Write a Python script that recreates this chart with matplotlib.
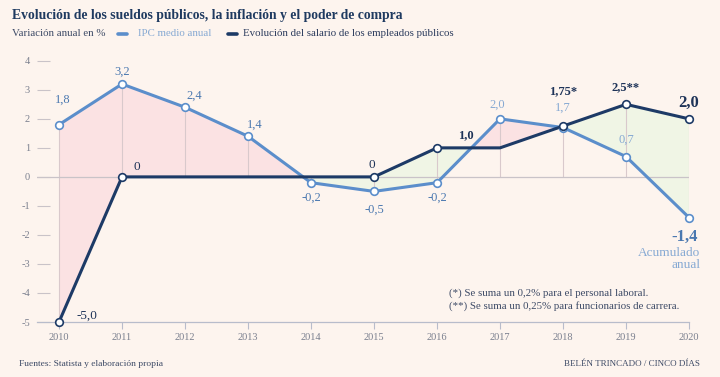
import numpy as np
import matplotlib
matplotlib.use("Agg")
import matplotlib.pyplot as plt
from matplotlib.lines import Line2D

plt.rcParams['font.family'] = ['Liberation Serif', 'DejaVu Serif']
plt.rcParams['axes.unicode_minus'] = False

# Datos
years = [2010, 2011, 2012, 2013, 2014, 2015, 2016, 2017, 2018, 2019, 2020]
ipc = [1.8, 3.2, 2.4, 1.4, -0.2, -0.5, -0.2, 2.0, 1.7, 0.7, -1.4]
salario = [-5.0, 0, 0, 0, 0, 0, 1.0, 1.0, 1.75, 2.5, 2.0]
salario_labels = {2010: "-5,0", 2011: "0", 2015: "0", 2016: "1,0",
                  2018: "1,75*", 2019: "2,5**", 2020: "2,0"}
yticks = [-5, -4, -3, -2, -1, 0, 1, 2, 3, 4]

BG = "#fdf4ee"
C_IPC = "#5b8ecb"
C_IPC_TXT = "#4a78b0"
C_IPC_LIGHT = "#86a9d3"
C_SAL = "#1d3a66"
C_SAL_TXT = "#1e3358"
C_GREY = "#7a7f8e"

W, H = 720, 377
fig = plt.figure(figsize=(7.2, 3.77), dpi=100, facecolor=BG)
ax = fig.add_axes([37 / W, 1 - 322 / H, (689 - 37) / W, (322 - 55) / H])
ax.set_facecolor(BG)

x = np.array(years, dtype=float)
a = np.array(ipc)
b = np.array(salario)

# relleno entre curvas
ax.fill_between(x, a, b, where=a >= b, interpolate=True, color="#fbe2e3", lw=0, zorder=1)
ax.fill_between(x, a, b, where=a < b, interpolate=True, color="#f0f5e5", lw=0, zorder=1)

# líneas verticales
for xi, ai, bi in zip(x, a, b):
    ax.vlines(xi, min(ai, bi, 0), max(ai, bi, 0), color="#d9c9cc", lw=0.8, zorder=2)

ax.axhline(0, color="#c9c3c8", lw=0.9, zorder=2, xmax=1)

ax.plot(x, a, color=C_IPC, lw=2.2, zorder=4, clip_on=False, solid_capstyle="round")
ax.plot(x, a, ls="none", marker="o", ms=5.5, mfc="white", mec=C_IPC, mew=1.2, zorder=6, clip_on=False)
ax.plot(x, b, color=C_SAL, lw=2.2, zorder=5, clip_on=False, solid_capstyle="round")
sal_marks = [y for y in years if y in salario_labels]
ax.plot(sal_marks, [salario[years.index(y)] for y in sal_marks], ls="none", marker="o", ms=5.5,
        mfc="white", mec=C_SAL, mew=1.2, zorder=7, clip_on=False)

# etiquetas IPC (desplazamientos en píxeles)
ipc_off = {2010: (4, 25), 2011: (0, 12), 2012: (9, 12), 2013: (7, 12), 2014: (0, -15),
           2015: (0, -18), 2016: (0, -15), 2017: (-3, 14), 2018: (0, 20), 2019: (0, 17)}
for yr, v in zip(years, ipc):
    txt = f"{v:.1f}".replace(".", ",")
    if yr == 2020:
        ax.annotate(txt, (yr, v), xytext=(-4 * 0.72, -19 * 0.72), textcoords="offset points",
                    ha="center", va="center", fontsize=12, fontweight="bold", color=C_IPC_TXT,
                    annotation_clip=False)
        continue
    dx, dy = ipc_off[yr]
    col = C_IPC_LIGHT if yr in (2017, 2018, 2019) else C_IPC_TXT
    ax.annotate(txt, (yr, v), xytext=(dx * 0.72, dy * 0.72), textcoords="offset points",
                ha="center", va="center", fontsize=9, color=col, annotation_clip=False)

ax.annotate("Acumulado\nanual", (2020, -1.4), xytext=(11 * 0.72, -41 * 0.72), textcoords="offset points",
            ha="right", va="center", fontsize=9.5, color=C_IPC_LIGHT, linespacing=1.0,
            annotation_clip=False)

# etiquetas salario
sal_off = {2010: (17, 6, "left"), 2011: (15, 10, "center"), 2015: (-2, 12, "center"),
           2016: (29, 13, "center"), 2018: (0, 35, "center"), 2019: (0, 17, "center"),
           2020: (0, 16, "center")}
for yr, txt in salario_labels.items():
    dx, dy, ha = sal_off[yr]
    big = yr == 2020
    weight = "normal" if yr in (2010, 2011, 2015) else "bold"
    ax.annotate(txt, (yr, salario[years.index(yr)]), xytext=(dx * 0.72, dy * 0.72),
                textcoords="offset points", ha=ha, va="center",
                fontsize=12 if big else 9.5 if weight == "normal" else 9,
                fontweight=weight, color=C_SAL_TXT, annotation_clip=False)

# ejes
ax.set_xlim(2010 - 22 / 63, 2020)
ax.set_ylim(-5, 4.2)
for s in ["top", "right", "left"]:
    ax.spines[s].set_visible(False)
ax.spines["bottom"].set_color("#b8bccb")
ax.spines["bottom"].set_linewidth(0.9)
ax.set_xticks(years)
ax.set_yticks(yticks)
ax.tick_params(axis="x", direction="out", length=5, width=0.8, color="#b8bccb",
               labelsize=7.5, labelcolor=C_GREY, pad=3)
ax.tick_params(axis="y", direction="in", length=9.5, width=0.8, color="#c9c3c8",
               labelsize=7.5, labelcolor=C_GREY, pad=5)

# cabecera
fig.text(12 / W, 1 - 15 / H, "Evolución de los sueldos públicos, la inflación y el poder de compra",
         fontsize=9.8, fontweight="bold", color="#1f3a60", va="center", ha="left")
fig.text(12 / W, 1 - 34 / H, "Variación anual en %", fontsize=7.8, color="#3d4a66", va="center")
fig.add_artist(Line2D([118 / W, 127 / W], [1 - 34 / H] * 2, color=C_IPC, lw=2.6,
                      solid_capstyle="round"))
fig.text(138 / W, 1 - 34 / H, "IPC medio anual", fontsize=7.8, color=C_IPC_LIGHT, va="center")
fig.add_artist(Line2D([228 / W, 237 / W], [1 - 34 / H] * 2, color=C_SAL, lw=2.6,
                      solid_capstyle="round"))
fig.text(243 / W, 1 - 34 / H, "Evolución del salario de los empleados públicos", fontsize=7.8,
         color="#2a3a5c", va="center")

# notas
fig.text(449 / W, 1 - 293 / H, "(*) Se suma un 0,2% para el personal laboral.", fontsize=7.8,
         color="#3d4a66", va="center")
fig.text(449 / W, 1 - 306 / H, "(**) Se suma un 0,25% para funcionarios de carrera.", fontsize=7.8,
         color="#3d4a66", va="center")
fig.text(19 / W, 1 - 364 / H, "Fuentes: Statista y elaboración propia", fontsize=6.8,
         color="#3d4a66", va="center")
fig.text(700 / W, 1 - 364 / H, "BELÉN TRINCADO / CINCO DÍAS", fontsize=6.5,
         color="#3d4a66", va="center", ha="right")

fig.savefig("out.png", dpi=100, facecolor=BG)
